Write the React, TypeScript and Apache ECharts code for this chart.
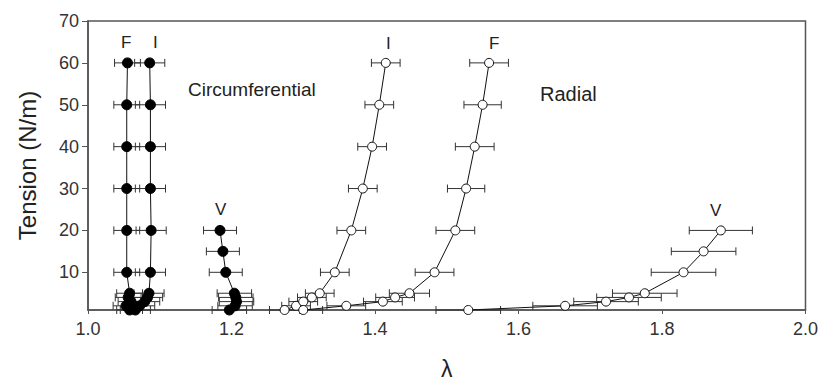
import React, { useEffect, useRef } from "react";
import * as echarts from "echarts";

// Tension levels (N/m)
const tensionFull = [1, 2, 3, 4, 5, 10, 20, 30, 40, 50, 60];
const tensionV = [1, 2, 3, 4, 5, 10, 15, 20];

// Circumferential stretch ratios
const circF = [1.058, 1.053, 1.060, 1.056, 1.058, 1.054, 1.054, 1.054, 1.054, 1.054, 1.055];
const circI = [1.066, 1.072, 1.079, 1.083, 1.085, 1.087, 1.088, 1.087, 1.087, 1.087, 1.086];
const circV = [1.197, 1.205, 1.207, 1.206, 1.204, 1.192, 1.188, 1.184];

// Radial stretch ratios
const radI = [1.274, 1.290, 1.300, 1.312, 1.323, 1.344, 1.367, 1.383, 1.396, 1.406, 1.415];
const radF = [1.300, 1.360, 1.411, 1.428, 1.448, 1.483, 1.512, 1.527, 1.539, 1.550, 1.559];
const radV = [1.530, 1.665, 1.722, 1.754, 1.776, 1.830, 1.858, 1.882];

// Error bar half-widths
const circFErr = [0.018, 0.018, 0.018, 0.018, 0.018, 0.018, 0.018, 0.018, 0.018, 0.018, 0.018];
const circIErr = [0.021, 0.021, 0.021, 0.021, 0.021, 0.021, 0.021, 0.021, 0.021, 0.021, 0.021];
const circVErr = [0.024, 0.024, 0.024, 0.024, 0.024, 0.023, 0.023, 0.023];
const radIErr = [0.021, 0.02, 0.02, 0.02, 0.02, 0.02, 0.02, 0.02, 0.02, 0.02, 0.02];
const radFErr = [0.027, 0.027, 0.027, 0.027, 0.028, 0.027, 0.027, 0.026, 0.027, 0.026, 0.027];
const radVErr = [0.045, 0.045, 0.045, 0.045, 0.045, 0.045, 0.045, 0.044];

const yTicks = [10, 20, 30, 40, 50, 60, 70];

const FONT = "Liberation Sans, Arial, sans-serif";

function pts(x: number[], y: number[]) {
  return x.map((v, i) => [v, y[i]]);
}
function errs(x: number[], e: number[], y: number[]) {
  return x.map((v, i) => [v - e[i], v + e[i], y[i]]);
}

const errorRender = (params: any, api: any) => {
  const y = api.value(2);
  const lo = api.coord([api.value(0), y]);
  const hi = api.coord([api.value(1), y]);
  const h = 4;
  const st = { stroke: "#333", lineWidth: 1 };
  return {
    type: "group",
    children: [
      { type: "line", shape: { x1: lo[0], y1: lo[1], x2: hi[0], y2: hi[1] }, style: st },
      { type: "line", shape: { x1: lo[0], y1: lo[1] - h, x2: lo[0], y2: lo[1] + h }, style: st },
      { type: "line", shape: { x1: hi[0], y1: hi[1] - h, x2: hi[0], y2: hi[1] + h }, style: st },
    ],
  };
};

function errSeries(data: number[][]) {
  return {
    type: "custom",
    renderItem: errorRender,
    data,
    encode: { x: [0, 1], y: 2 },
    z: 1,
    silent: true,
  };
}

function lineSeries(data: number[][], filled: boolean) {
  return {
    type: "line",
    data,
    symbol: "circle",
    symbolSize: filled ? 10 : 9,
    showSymbol: true,
    lineStyle: { color: "#111", width: 1 },
    itemStyle: filled
      ? { color: "#000", borderColor: "#000", borderWidth: 1 }
      : { color: "#fff", borderColor: "#111", borderWidth: 1 },
    z: 3,
    silent: true,
  };
}

export default function App() {
  const ref = useRef<HTMLDivElement>(null);
  useEffect(() => {
    document.body.style.margin = "0";
    const chart = echarts.init(ref.current!, null, { renderer: "svg" });
    const labelStyle = { fill: "#222", fontFamily: FONT, fontSize: 17 };
    chart.setOption({
      animation: false,
      backgroundColor: "#fff",
      grid: {
        left: 88,
        top: 21,
        width: 718,
        height: 297,
        show: true,
        borderColor: "#555",
        borderWidth: 1.5,
      },
      xAxis: {
        type: "value",
        min: 1,
        max: 2,
        interval: 0.2,
        axisLine: { show: true, onZero: false, lineStyle: { color: "#555", width: 1.5 } },
        axisTick: { show: true, length: 4, lineStyle: { color: "#555" } },
        axisLabel: {
          formatter: (v: number) => v.toFixed(1),
          color: "#333",
          fontFamily: FONT,
          fontSize: 18,
          margin: 10,
        },
        splitLine: { show: false },
        name: "λ",
        nameLocation: "middle",
        nameGap: 47,
        nameTextStyle: { color: "#222", fontFamily: FONT, fontSize: 23 },
      },
      yAxis: {
        type: "value",
        min: 1,
        max: 70,
        axisLine: { show: true, lineStyle: { color: "#555", width: 1.5 } },
        axisTick: { show: true, length: 6, customValues: yTicks, lineStyle: { color: "#555" } },
        axisLabel: {
          customValues: yTicks,
          color: "#333",
          fontFamily: FONT,
          fontSize: 18,
          margin: 9,
        },
        splitLine: { show: false },
        name: "Tension (N/m)",
        nameLocation: "middle",
        nameGap: 49,
        nameTextStyle: { color: "#222", fontFamily: FONT, fontSize: 24 },
      },
      graphic: [
        { type: "text", left: 121, top: 34, style: { ...labelStyle, text: "F" } },
        { type: "text", left: 153, top: 34, style: { ...labelStyle, text: "I" } },
        { type: "text", left: 188, top: 80, style: { ...labelStyle, fontSize: 19, text: "Circumferential" } },
        { type: "text", left: 215, top: 201, style: { ...labelStyle, text: "V" } },
        { type: "text", left: 386, top: 35, style: { ...labelStyle, text: "I" } },
        { type: "text", left: 489, top: 35, style: { ...labelStyle, text: "F" } },
        { type: "text", left: 540, top: 84, style: { ...labelStyle, fontSize: 20, text: "Radial" } },
        { type: "text", left: 710, top: 202, style: { ...labelStyle, text: "V" } },
      ],
      series: [
        errSeries(errs(circF, circFErr, tensionFull)),
        errSeries(errs(circI, circIErr, tensionFull)),
        errSeries(errs(circV, circVErr, tensionV)),
        errSeries(errs(radI, radIErr, tensionFull)),
        errSeries(errs(radF, radFErr, tensionFull)),
        errSeries(errs(radV, radVErr, tensionV)),
        lineSeries(pts(circF, tensionFull), true),
        lineSeries(pts(circI, tensionFull), true),
        lineSeries(pts(circV, tensionV), true),
        lineSeries(pts(radI, tensionFull), false),
        lineSeries(pts(radF, tensionFull), false),
        lineSeries(pts(radV, tensionV), false),
      ],
    });
    return () => chart.dispose();
  }, []);
  return <div ref={ref} style={{ width: 821, height: 385 }} />;
}
